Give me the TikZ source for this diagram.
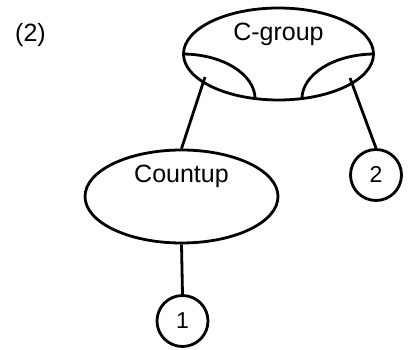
\documentclass[tikz,border=0pt]{standalone}
\usepackage{fontspec}
\setmainfont{Liberation Sans}
\usetikzlibrary{shapes.geometric}
\tikzset{
  lw/.style={line width=2.8pt},
  oval/.style={draw, lw, ellipse, inner sep=0pt},
  portcircle/.style={draw, lw, circle, inner sep=0pt, minimum size=51pt},
  lbl/.style={inner sep=0pt, anchor=base, font=\fontsize{25}{29}\selectfont},
  conn/.style={lw},
}
\begin{document}
\begin{tikzpicture}[x=1pt,y=1pt]
\useasboundingbox (0,0) rectangle (408,-350);
\node[lbl, anchor=base west] (tag) at (15,-42) {(2)};
\node[oval, minimum width=190pt, minimum height=92pt] (cg) at (278.5,-54) {};
\node[lbl] (cgt) at (278.5,-41) {C-group};
\draw[conn] (cg.west) arc[start angle=90, end angle=0, x radius=73pt, y radius=45pt];
\draw[conn] (cg.east) arc[start angle=90, end angle=180, x radius=73pt, y radius=45pt];
\node[oval, minimum width=193pt, minimum height=93pt] (cu) at (181.5,-196.5) {};
\node[lbl] (cut) at (181.5,-183) {Countup};
\node[portcircle] (p2) at (376,-175) {};
\node[lbl, font=\fontsize{23}{27}\selectfont] (p2t) at (376,-183) {2};
\node[portcircle] (p1) at (182.5,-321) {};
\node[lbl, font=\fontsize{23}{27}\selectfont] (p1t) at (182.5,-329) {1};
\coordinate (pl) at (205,-77);
\coordinate (pr) at (350,-78);
\draw[conn] (pl) -- (cu.north);
\draw[conn] (pr) -- (p2.north);
\draw[conn] (cu.south) -- (p1.north);
\end{tikzpicture}
\end{document}
